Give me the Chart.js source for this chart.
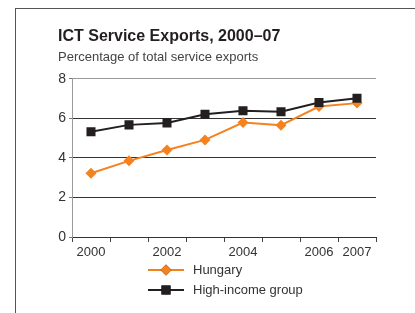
<!DOCTYPE html>
<html>
<head>
<meta charset="utf-8">
<script src="https://cdn.jsdelivr.net/npm/chart.js@4.4.0/dist/chart.umd.min.js"></script>
<style>
  html, body { margin: 0; padding: 0; background: #fff; }
  #wrap { position: relative; width: 415px; height: 313px; overflow: hidden; }
  #frame { position: absolute; left: 15px; top: 8px; width: 420px; height: 330px;
           border-left: 1px solid #555; border-top: 1px solid #555; }
  canvas { position: absolute; left: 0; top: 0; }
</style>
</head>
<body>
<div id="wrap">
  <div id="frame"></div>
  <canvas id="chartcanvas" width="415" height="313"></canvas>
</div>
<script>
var years = ["2000", "2001", "2002", "2003", "2004", "2005", "2006", "2007"];
var shownYears = ["2000", "2002", "2004", "2006", "2007"];
var hungary = [3.22, 3.85, 4.40, 4.91, 5.79, 5.65, 6.60, 6.77];
var highIncome = [5.32, 5.67, 5.77, 6.21, 6.38, 6.33, 6.80, 7.02];
var yTicks = [0, 2, 4, 6, 8];

var fontName = "'Liberation Sans Narrow', 'Liberation Sans', Arial, sans-serif";
var orange = "#f5821f";
var black = "#231f20";

// legend drawn below the axis: line with marker, then the name
var lineLegend = {
	id: "lineLegend",
	afterDraw: function(chart) {
		var ctx = chart.ctx;
		var area = chart.chartArea;
		var x0 = area.left + 76;
		var y0 = area.bottom + 33;
		chart.data.datasets.forEach(function(ds, i) {
			var y = y0 + i * 20;
			ctx.save();
			ctx.strokeStyle = ds.borderColor;
			ctx.lineWidth = 2;
			ctx.beginPath();
			ctx.moveTo(x0, y);
			ctx.lineTo(x0 + 36, y);
			ctx.stroke();
			Chart.helpers.drawPoint(ctx, {
				pointStyle: ds.pointStyle,
				radius: ds.pointRadius,
				borderWidth: 0
			}, x0 + 18, y);
			ctx.fillStyle = ds.borderColor;
			ctx.fill();
			ctx.fillStyle = "#333";
			ctx.font = "13px " + fontName;
			ctx.textBaseline = "middle";
			ctx.fillText(ds.label, x0 + 45, y);
			ctx.restore();
		});
	}
};

var chartdata = {
	labels: years,
	datasets: [
		{
			label: "Hungary",
			data: hungary,
			borderColor: orange,
			backgroundColor: orange,
			borderWidth: 2,
			pointStyle: "rectRot",
			pointRadius: 5.5,
			pointBorderWidth: 0,
			lineTension: 0,
			fill: false,
			order: 1
		},
		{
			label: "High-income group",
			data: highIncome,
			borderColor: black,
			backgroundColor: black,
			borderWidth: 2,
			pointStyle: "rect",
			pointRadius: 6.4,
			pointBorderWidth: 0,
			lineTension: 0,
			fill: false,
			order: 0
		}
	]
};

var ctx = document.getElementById("chartcanvas");

var LineGraph = new Chart(ctx, {
	type: "line",
	data: chartdata,
	plugins: [lineLegend],
	options: {
		responsive: false,
		animation: false,
		layout: { padding: { left: 58, right: 39, top: 27, bottom: 54 } },
		plugins: {
			legend: { display: false },
			tooltip: { enabled: false },
			title: {
				display: true,
				text: "ICT Service Exports, 2000\u201307",
				align: "start",
				color: "#231f20",
				font: { family: fontName, size: 16, weight: "bold" },
				padding: { top: 0, bottom: 3 }
			},
			subtitle: {
				display: true,
				text: "Percentage of total service exports",
				align: "start",
				color: "#444",
				font: { family: fontName, size: 13 },
				padding: { top: 0, bottom: 14 }
			}
		},
		scales: {
			x: {
				type: "category",
				offset: true,
				grid: {
					offset: true,
					drawOnChartArea: true,
					color: function(c) { return c.index === years.length ? "#9a9a9a" : "rgba(0,0,0,0)"; },
					tickColor: "#444",
					tickLength: 5
				},
				border: { color: "#333", width: 1 },
				ticks: {
					autoSkip: false,
					maxRotation: 0,
					padding: 3,
					color: "#333",
					font: { family: fontName, size: 13 },
					callback: function(v, i) {
						var lab = years[i];
						return shownYears.indexOf(lab) >= 0 ? lab : "";
					}
				},
				afterFit: function(s) { s.height = 22; }
			},
			y: {
				min: 0,
				max: 8,
				afterBuildTicks: function(s) {
					s.ticks = yTicks.map(function(v) { return { value: v }; });
				},
				grid: {
					color: function(c) { return c.tick.value === 8 ? "#9a9a9a" : (c.tick.value === 0 ? "rgba(0,0,0,0)" : "#333"); },
					tickColor: "#777",
					tickLength: 3
				},
				border: { color: "#9a9a9a", width: 1 },
				ticks: {
					padding: 3,
					color: "#333",
					font: { family: fontName, size: 14 }
				},
				afterFit: function(s) { s.width = 14; }
			}
		}
	}
});
</script>
</body>
</html>
